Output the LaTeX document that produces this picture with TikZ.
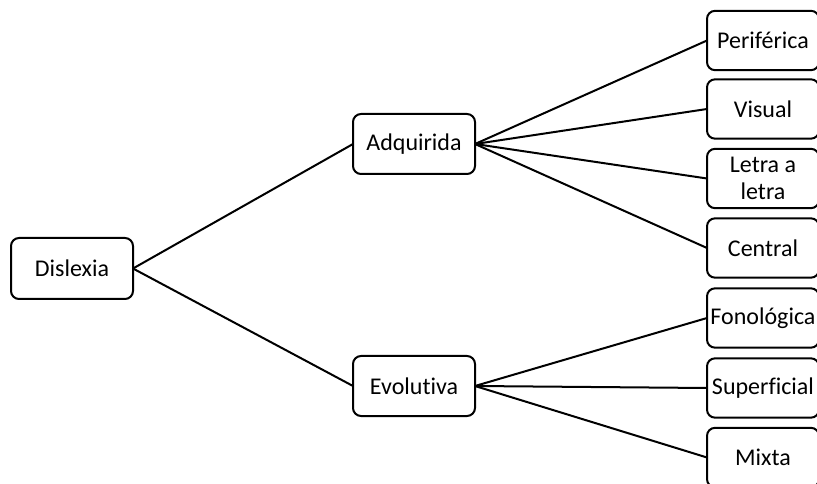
\documentclass[tikz,border=0pt]{standalone}
\usepackage{fontspec}
\setmainfont{Carlito}[Ligatures={NoCommon,NoContextual}]
\begin{document}
\begin{tikzpicture}[x=0.75pt,y=-0.75pt,
  box/.style={draw=black,line width=1.5pt,rounded corners=6pt,fill=white,inner sep=0pt,outer sep=0pt,align=center,font=\fontsize{18}{20.5}\selectfont},
  midbox/.style={box,minimum width=91.5pt,minimum height=45pt},
  leafbox/.style={box,minimum width=84pt,minimum height=44.5pt},
  link/.style={line width=1.5pt}]
\useasboundingbox (0,0) rectangle (817,484);
\clip (0,0) rectangle (817,484);
\node[box,minimum width=91.5pt,minimum height=45.75pt] (dis) at (72,268.5) {Dislexia};
\node[midbox] (adq) at (414,144) {Adquirida};
\node[midbox] (evo) at (414,386) {Evolutiva};
\node[leafbox] (per) at (763,40.5) {Periférica};
\node[leafbox] (vis) at (763,109) {Visual};
\node[leafbox] (let) at (763,178.5) {Letra a\\letra};
\node[leafbox] (cen) at (763,248) {Central};
\node[leafbox] (fon) at (763,318) {Fonológica};
\node[leafbox] (sup) at (763,388) {Superficial};
\node[leafbox] (mix) at (763,457.5) {Mixta};
\draw[link] (dis.east) -- (adq.west);
\draw[link] (dis.east) -- (evo.west);
\foreach \t in {per,vis,let,cen} \draw[link] (adq.east) -- (\t.west);
\foreach \t in {fon,sup,mix} \draw[link] (evo.east) -- (\t.west);
\end{tikzpicture}
\end{document}
